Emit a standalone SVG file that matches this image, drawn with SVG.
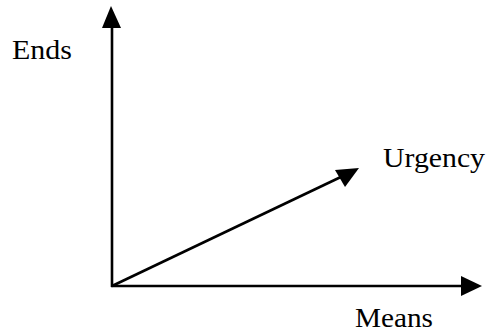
<svg xmlns="http://www.w3.org/2000/svg" width="489" height="335" viewBox="0 0 489 335">
<style>
.ax{stroke:#000;stroke-width:2.6;fill:none}
.hd{fill:#000;stroke:none}
.lb{font-family:"Liberation Serif","Times New Roman",serif;font-size:27px;fill:#000}
</style>
<rect width="489" height="335" fill="#fff"/>
<g id="connectors">
<line class="ax" x1="112" y1="287" x2="112" y2="24"/>
<polygon class="hd" points="111,6 102,28 121,28"/>
<line class="ax" x1="111" y1="286" x2="465" y2="286"/>
<polygon class="hd" points="482,286 461,276 461,296"/>
<line class="ax" x1="112" y1="286" x2="345" y2="175"/>
<polygon class="hd" points="359,168 335,170 345,187"/>
</g>
<g id="ends"><text class="lb" x="12" y="59" textLength="60" lengthAdjust="spacingAndGlyphs">Ends</text></g>
<g id="urgency"><text class="lb" x="383" y="167" textLength="102" lengthAdjust="spacingAndGlyphs">Urgency</text></g>
<g id="means"><text class="lb" x="355" y="327" textLength="78" lengthAdjust="spacingAndGlyphs">Means</text></g>
</svg>
